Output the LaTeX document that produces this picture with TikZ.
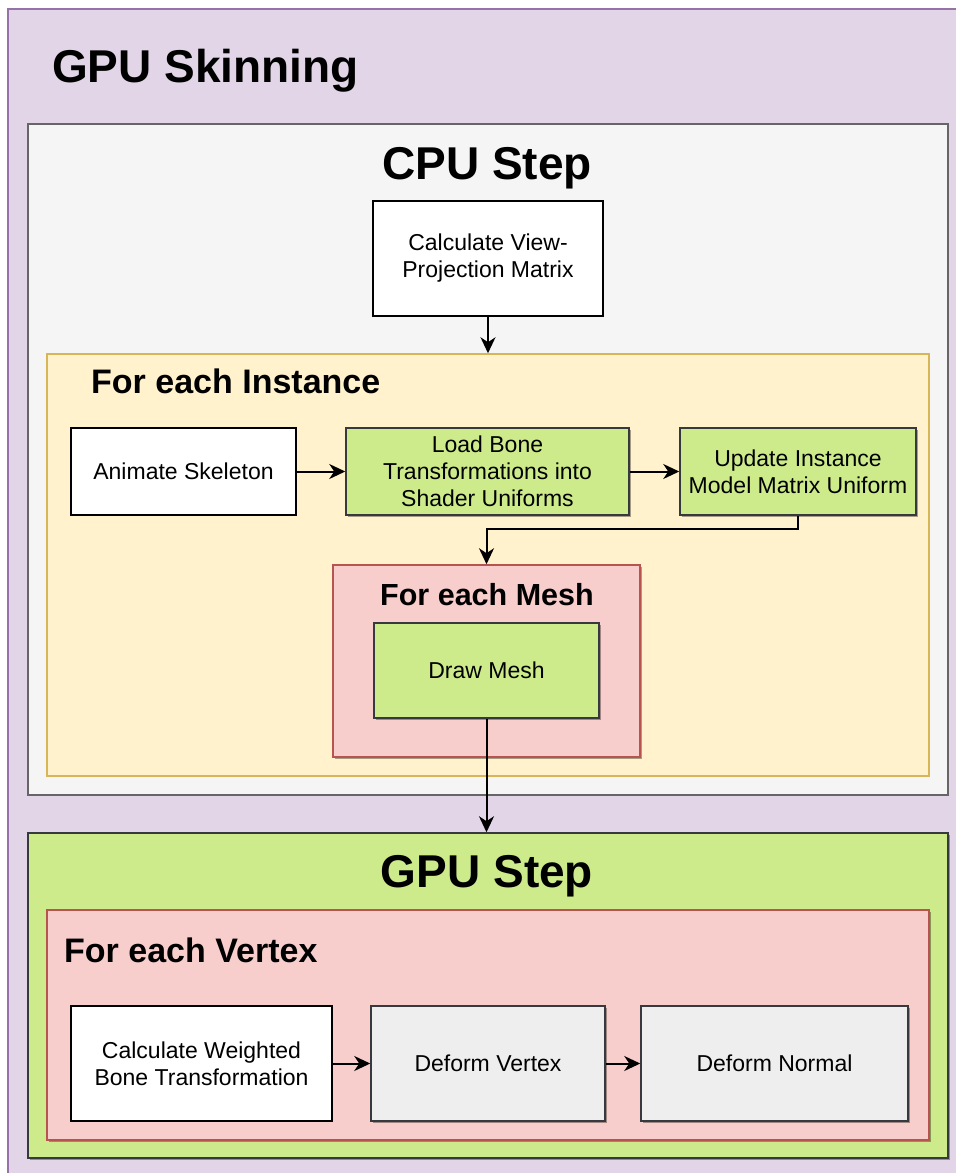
\documentclass[tikz,border=0pt]{standalone}
\usepackage{fontspec}
\setmainfont{Liberation Sans}
\usetikzlibrary{arrows.meta,shadows}

\definecolor{skinFill}{HTML}{E1D5E7}
\definecolor{skinLine}{HTML}{9673A6}
\definecolor{cpuFill}{HTML}{F5F5F5}
\definecolor{cpuLine}{HTML}{666666}
\definecolor{instFill}{HTML}{FFF2CC}
\definecolor{instLine}{HTML}{D6B656}
\definecolor{loopFill}{HTML}{F8CECC}
\definecolor{loopLine}{HTML}{B85450}
\definecolor{gpuFill}{HTML}{CDEB8B}
\definecolor{darkLine}{HTML}{36393D}
\definecolor{greyFill}{HTML}{EEEEEE}

% #1 style, #2 name, #3 left, #4 top, #5 right, #6 bottom, #7 text
\newcommand{\boxnode}[7]{%
  \pgfmathsetmacro\boxW{#5-#3}%
  \pgfmathsetmacro\boxH{#6-#4}%
  \node[#1, minimum width=\boxW pt, minimum height=\boxH pt] (#2)
    at ({(#3+#5)/2},{(#4+#6)/2}) {#7};}

\tikzset{
  frame/.style={draw, line width=1.5pt, inner sep=0pt},
  shade3d/.style={drop shadow={shadow xshift=2pt, shadow yshift=-2pt, opacity=0.35, fill=black}},
  skin/.style={frame, fill=skinFill, draw=skinLine},
  cpu/.style={frame, fill=cpuFill, draw=cpuLine},
  inst/.style={frame, fill=instFill, draw=instLine},
  loop/.style={frame, fill=loopFill, draw=loopLine, shade3d},
  gpu/.style={frame, fill=gpuFill, draw=darkLine, shade3d},
  stepbox/.style={frame, align=center, text=black, font=\fontsize{23}{27}\selectfont},
  plainbox/.style={stepbox, fill=white, draw=black},
  greenbox/.style={stepbox, fill=gpuFill, draw=darkLine, shade3d},
  greybox/.style={stepbox, fill=greyFill, draw=darkLine, shade3d},
  bigtitle/.style={font=\fontsize{46}{54}\selectfont\bfseries, inner sep=0pt, anchor=base},
  subtitle/.style={font=\fontsize{34}{40}\selectfont\bfseries, inner sep=0pt, anchor=base west},
  arr/.style={draw=black, line width=2pt, -{Stealth[length=16pt, width=15pt, inset=5pt]}},
}

\begin{document}
\begin{tikzpicture}[x=1pt, y=-1pt]
  \clip (0,0) rectangle (956,1173);
  \fill[white] (0,0) rectangle (956,1173);

  % outer frame
  \boxnode{skin}{skin}{8}{9}{980}{1200}{}
  \node[bigtitle, anchor=base west] (skinT) at (52,82) {GPU Skinning};

  % CPU side
  \boxnode{cpu}{cpu}{28}{124}{948}{795}{}
  \node[bigtitle] (cpuT) at (487,179) {CPU Step};
  \boxnode{plainbox}{vp}{373}{201}{603}{316}{Calculate View-\\Projection Matrix}

  \boxnode{inst}{inst}{47}{354}{929}{776}{}
  \node[subtitle] (instT) at (91,393) {For each Instance};
  \boxnode{plainbox}{anim}{71}{428}{296}{515}{Animate Skeleton}
  \boxnode{greenbox}{load}{346}{428}{629}{515}{Load Bone\\Transformations into\\Shader Uniforms}
  \boxnode{greenbox}{upd}{680}{428}{916}{515}{Update Instance\\Model Matrix Uniform}

  \boxnode{loop}{mesh}{333}{565}{640}{757}{}
  \node[subtitle, anchor=base, font=\fontsize{30.5}{36}\selectfont\bfseries] (meshT) at (487,605) {For each Mesh};
  \boxnode{greenbox}{drawm}{374}{623}{599}{718}{Draw Mesh}

  % GPU side
  \boxnode{gpu}{gpu}{28}{833}{948}{1158}{}
  \node[bigtitle] (gpuT) at (487,887) {GPU Step};
  \boxnode{loop}{vert}{47}{910}{929}{1140}{}
  \node[subtitle] (vertT) at (64,962) {For each Vertex};
  \boxnode{plainbox}{cw}{71}{1006}{332}{1121}{Calculate Weighted\\Bone Transformation}
  \boxnode{greybox}{dv}{371}{1006}{605}{1121}{Deform Vertex}
  \boxnode{greybox}{dn}{641}{1006}{908}{1121}{Deform Normal}

  % connectors
  \draw[arr] (vp.south) -- (inst.north);
  \draw[arr] (anim) -- (load);
  \draw[arr] (load) -- (upd);
  \draw[arr] (upd.south) -- ++(0,13) -| (mesh.north);
  \draw[arr] (drawm.south) -- (drawm.south |- gpu.north);
  \draw[arr] (cw) -- (dv);
  \draw[arr] (dv) -- (dn);
\end{tikzpicture}
\end{document}
